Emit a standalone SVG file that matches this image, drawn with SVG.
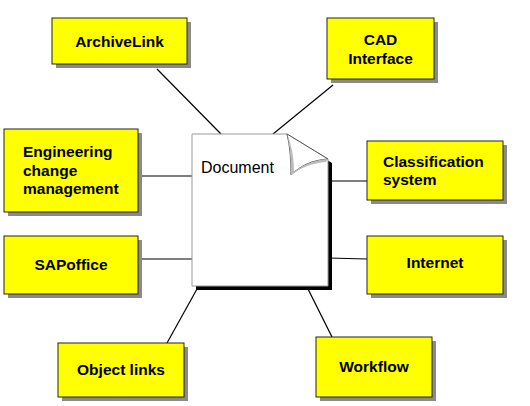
<svg xmlns="http://www.w3.org/2000/svg" width="530" height="406" viewBox="0 0 530 406">
<defs>
<style>
.box{fill:#ffff00;stroke:#222;stroke-width:1}
.sh{fill:#8a8a8a}
.t{font-family:"Liberation Sans",Arial,sans-serif;font-weight:bold;font-size:15.5px;fill:#000}
.c{text-anchor:middle}
.ln{stroke:#000;stroke-width:1.2;fill:none}
</style>
</defs>
<rect width="530" height="406" fill="#fff"/>
<g id="connectors">
<line class="ln" x1="157" y1="69" x2="221" y2="134"/>
<line class="ln" x1="333" y1="85" x2="273" y2="134"/>
<line class="ln" x1="138" y1="176" x2="192" y2="176"/>
<line class="ln" x1="138" y1="259" x2="192" y2="259"/>
<line class="ln" x1="328" y1="181" x2="367" y2="181"/>
<line class="ln" x1="328" y1="258" x2="367" y2="259"/>
<line class="ln" x1="197" y1="289" x2="167" y2="343"/>
<line class="ln" x1="308" y1="289" x2="332" y2="337"/>
</g>
<g id="document">
<path d="M196,138 H291 L332,163 V290 H196 Z" fill="#000"/>
<path d="M192,134 H287 L328,159 V286 H192 Z" fill="#fff" stroke="#999" stroke-width="1"/>
<path d="M287,134 C290,146 291,160 291,175 C300,166 312,160 328,159 Z" fill="#fff" stroke="#555" stroke-width="1"/>
<path d="M287,134 C290,146 291,160 291,175 L294,173 C294,158 292,146 287,134 Z" fill="#bbb"/>
<path d="M291,175 C300,166 312,160 328,159 L326,162 C313,163 301,168 294,173 Z" fill="#bbb"/>
<text x="201" y="173" font-family="'Liberation Sans',Arial,sans-serif" font-size="16" fill="#000">Document</text>
</g>
<g id="archivelink">
<rect class="sh" x="56" y="22" width="135" height="46"/>
<rect class="box" x="52" y="18" width="135" height="46"/>
<text class="t c" x="119.5" y="47">ArchiveLink</text>
</g>
<g id="cad">
<rect class="sh" x="331" y="22" width="107" height="61"/>
<rect class="box" x="327" y="18" width="107" height="61"/>
<text class="t c" x="380.5" y="45">CAD</text>
<text class="t c" x="380.5" y="64">Interface</text>
</g>
<g id="engineering">
<rect class="sh" x="8" y="133" width="134" height="83"/>
<rect class="box" x="4" y="129" width="134" height="83"/>
<text class="t" x="23" y="157">Engineering</text>
<text class="t" x="23" y="175.5">change</text>
<text class="t" x="23" y="194">management</text>
</g>
<g id="sapoffice">
<rect class="sh" x="8" y="240" width="134" height="58"/>
<rect class="box" x="4" y="236" width="134" height="58"/>
<text class="t c" x="71" y="270">SAPoffice</text>
</g>
<g id="classification">
<rect class="sh" x="371" y="145" width="136" height="59"/>
<rect class="box" x="367" y="141" width="136" height="59"/>
<text class="t" x="383" y="167">Classification</text>
<text class="t" x="383" y="185">system</text>
</g>
<g id="internet">
<rect class="sh" x="371" y="240" width="136" height="58"/>
<rect class="box" x="367" y="236" width="136" height="58"/>
<text class="t c" x="435" y="268">Internet</text>
</g>
<g id="objectlinks">
<rect class="sh" x="62" y="347" width="126" height="54"/>
<rect class="box" x="58" y="343" width="126" height="54"/>
<text class="t c" x="121" y="375">Object links</text>
</g>
<g id="workflow">
<rect class="sh" x="320" y="341" width="116" height="60"/>
<rect class="box" x="316" y="337" width="116" height="60"/>
<text class="t c" x="374" y="372">Workflow</text>
</g>
</svg>
